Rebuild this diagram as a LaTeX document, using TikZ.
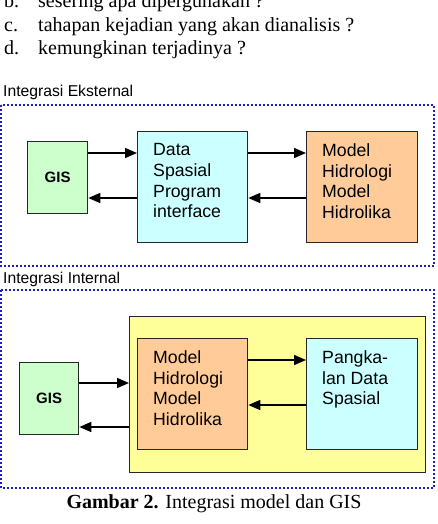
\documentclass[tikz,border=0pt]{standalone}
\usepackage{fontspec}
\setmainfont{Liberation Serif}
\setsansfont{Liberation Sans}
\usetikzlibrary{arrows.meta, positioning, calc}
\definecolor{gisGreen}{HTML}{CCFFCC}
\definecolor{dataCyan}{HTML}{CCFFFF}
\definecolor{modelOrange}{HTML}{FFCC99}
\definecolor{coreYellow}{HTML}{FFFF99}
\definecolor{frameBlue}{HTML}{1C1CC8}
\tikzset{
    font=\sffamily,
    >={Triangle[length=12pt, width=10pt]},
    % Shapes
    box/.style={rectangle, draw=black!85, line width=1.3pt, anchor=north west, inner sep=0pt},
    boxText/.style={anchor=north west, align=left, inner sep=0pt,
                    font=\sffamily\fontsize{17.7}{20.7}\selectfont},
    gisText/.style={inner sep=0pt, font=\sffamily\bfseries\fontsize{15}{18}\selectfont},
    frame/.style={draw=frameBlue, line width=2pt, dash pattern=on 2pt off 2pt},
    frameTitle/.style={anchor=base west, inner sep=0pt, font=\sffamily\fontsize{15.7}{18}\selectfont},
    bodyText/.style={anchor=base west, inner sep=0pt, font=\rmfamily\fontsize{20}{22}\selectfont},
    % Flow
    flow/.style={->, line width=1.5pt, black}
}
\begin{document}
\begin{tikzpicture}[x=1pt, y=-1pt]
\useasboundingbox (0,0) rectangle (438,524);

% text of the page
\node[bodyText] (itemB) at (4,8) {b.};
\node[bodyText] (itemBtext) at (38,8) {sesering apa dipergunakan ?};
\node[bodyText] (itemC) at (4,32) {c.};
\node[bodyText] (itemCtext) at (38,32) {tahapan kejadian yang akan dianalisis ?};
\node[bodyText] (itemD) at (4,55) {d.};
\node[bodyText] (itemDtext) at (38,55) {kemungkinan terjadinya ?};

% external integration
\node[frameTitle] (extTitle) at (3,97) {Integrasi Eksternal};
\draw[frame] (1,105) rectangle (434,266);

\node[box, fill=gisGreen, minimum width=60pt, minimum height=72pt] (gisA) at (27,141) {};
\node[gisText] (gisAtext) at (gisA.center) {GIS};
\node[box, fill=dataCyan, minimum width=110pt, minimum height=111pt] (dataA) at (137,131) {};
\node[boxText] (dataAtext) at ($(dataA.north west)+(16,12.5)$) {Data\\Spasial\\Program\\interface};
\node[box, fill=modelOrange, minimum width=111pt, minimum height=111pt] (modelA) at (306,131) {};
\node[boxText] (modelAtext) at ($(modelA.north west)+(16,12.5)$) {Model\\Hidrologi\\Model\\Hidrolika};

\draw[flow] (gisA.east |- 0,153) -- (dataA.west |- 0,153);
\draw[flow] (dataA.west |- 0,198) -- (gisA.east |- 0,198);
\draw[flow] (dataA.east |- 0,153) -- (modelA.west |- 0,153);
\draw[flow] (modelA.west |- 0,198) -- (dataA.east |- 0,198);

% internal integration
\node[frameTitle] (intTitle) at (3,283) {Integrasi Internal};
\draw[frame] (1,290) rectangle (434,488);

\node[box, fill=coreYellow, minimum width=296pt, minimum height=156pt] (core) at (129,316) {};
\node[box, fill=gisGreen, minimum width=59pt, minimum height=72pt] (gisB) at (19,362) {};
\node[gisText] (gisBtext) at (gisB.center) {GIS};
\node[box, fill=modelOrange, minimum width=110pt, minimum height=111pt] (modelB) at (137,338) {};
\node[boxText] (modelBtext) at ($(modelB.north west)+(16,12.5)$) {Model\\Hidrologi\\Model\\Hidrolika};
\node[box, fill=dataCyan, minimum width=111pt, minimum height=111pt] (baseB) at (306,338) {};
\node[boxText] (baseBtext) at ($(baseB.north west)+(16,12.5)$) {Pangka-\\lan Data\\Spasial};

\draw[flow] (gisB.east |- 0,383) -- (core.west |- 0,383);
\draw[flow] (core.west |- 0,427) -- (gisB.east |- 0,427);
\draw[flow] (modelB.east |- 0,360) -- (baseB.west |- 0,360);
\draw[flow] (baseB.west |- 0,405) -- (modelB.east |- 0,405);

% caption
\node[anchor=base, inner sep=0pt, font=\rmfamily\fontsize{20}{22}\selectfont] (caption) at (214,508)
    {\textbf{Gambar 2.} Integrasi model dan GIS};
\end{tikzpicture}
\end{document}
